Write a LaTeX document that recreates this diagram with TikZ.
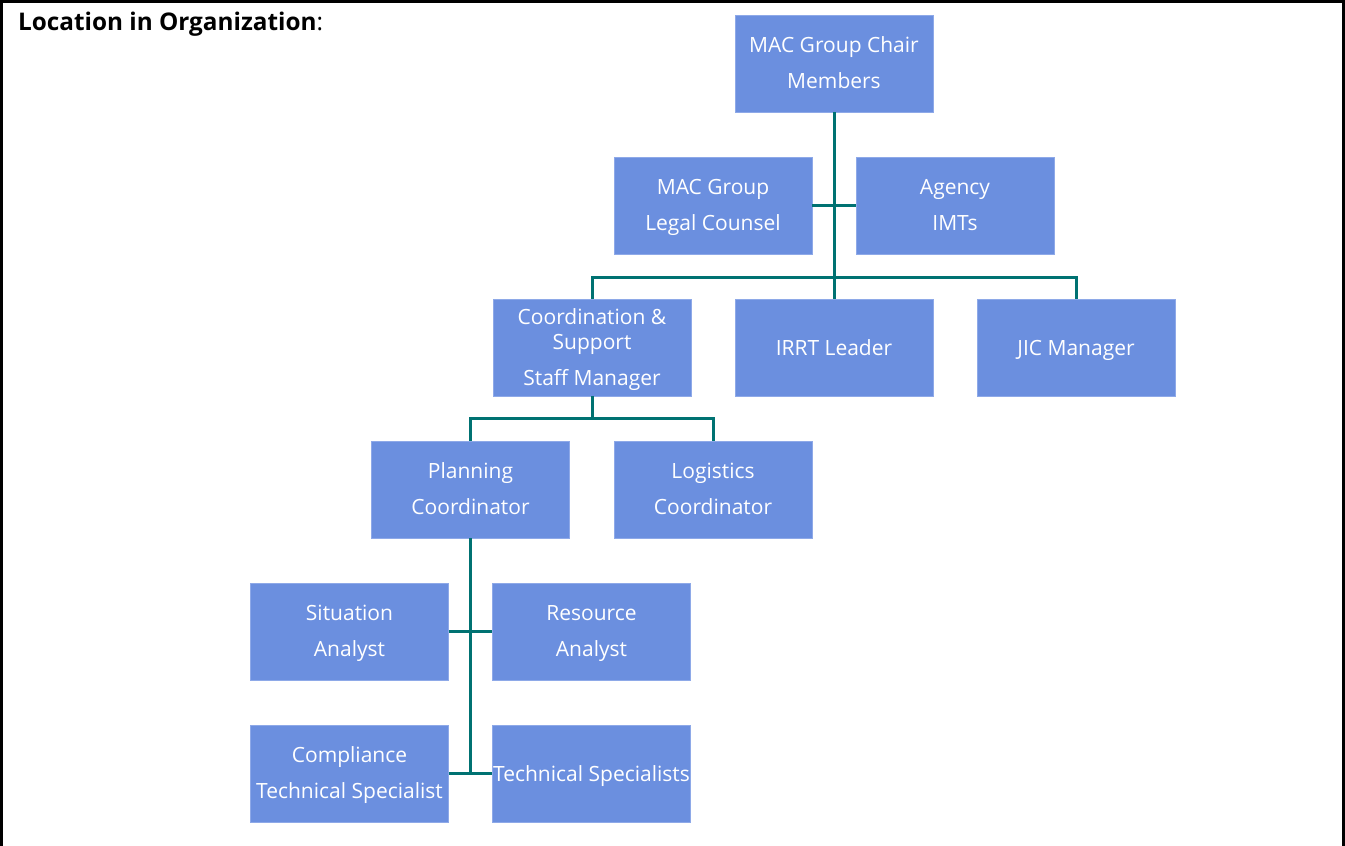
\documentclass[tikz,border=0pt]{standalone}
\usepackage{fontspec}
\setmainfont{Open Sans}
\definecolor{boxfill}{HTML}{6B8FDF}
\definecolor{boxedge}{HTML}{8EA9E8}
\definecolor{linkteal}{HTML}{007272}
\begin{document}
\begin{tikzpicture}[x=1pt,y=-1pt,
  box/.style={rectangle, fill=boxfill, draw=boxedge, line width=0.8pt,
    minimum width=198pt, minimum height=97pt, inner sep=0pt,
    text=white, align=center, font=\fontsize{21}{25}\selectfont,
    text depth=1pt},
  oneline/.style={text height=16pt},
  link/.style={draw=linkteal, line width=3pt},
  frame/.style={draw=black, line width=2.6pt}]
\useasboundingbox (0,0) rectangle (1345,846);
% outer frame (open at the bottom)
\draw[frame] (1.3,846) -- (1.3,1.3) -- (1343.7,1.3) -- (1343.7,846);
\node[anchor=base west, inner sep=0pt, font=\fontsize{24.3}{28}\selectfont\bfseries] (title) at (18,30) {Location in Organization\textmd{:}};

% boxes
\node[box] (chair) at (834,63.5) {MAC Group Chair\\[11pt]Members};
\node[box] (legal) at (713,205.5) {MAC Group\\[11pt]Legal Counsel};
\node[box] (agency) at (955,205.5) {Agency\\[11pt]IMTs};
\node[box] (coord) at (592,347.5) {Coordination \&\\Support\\[11pt]Staff Manager};
\node[box, oneline] (irrt) at (834,347.5) {IRRT Leader};
\node[box, oneline] (jic) at (1076,347.5) {JIC Manager};
\node[box] (plan) at (470.5,489.5) {Planning\\[11pt]Coordinator};
\node[box] (logi) at (713,489.5) {Logistics\\[11pt]Coordinator};
\node[box] (sit) at (349.5,631.5) {Situation\\[11pt]Analyst};
\node[box] (res) at (591.5,631.5) {Resource\\[11pt]Analyst};
\node[box] (comp) at (349.5,773.5) {Compliance\\[11pt]Technical Specialist};
\node[box, oneline] (tech) at (591.5,773.5) {Technical Specialists};

% connectors
\coordinate (bus) at (834,277);
\coordinate (bus2) at (592,418);
\draw[link] (chair.south) -- (irrt.north);
\draw[link] (legal.east) -- (agency.west);
\draw[link] (coord.north) -- (coord.north |- bus) -- (jic.north |- bus) -- (jic.north);
\draw[link] (coord.south) -- (bus2);
\draw[link] (plan.north) -- (plan.north |- bus2) -- (logi.north |- bus2) -- (logi.north);
\draw[link] (plan.south) -- (plan.south |- tech.west);
\draw[link] (sit.east) -- (res.west);
\draw[link] (comp.east) -- (tech.west);
\end{tikzpicture}
\end{document}
